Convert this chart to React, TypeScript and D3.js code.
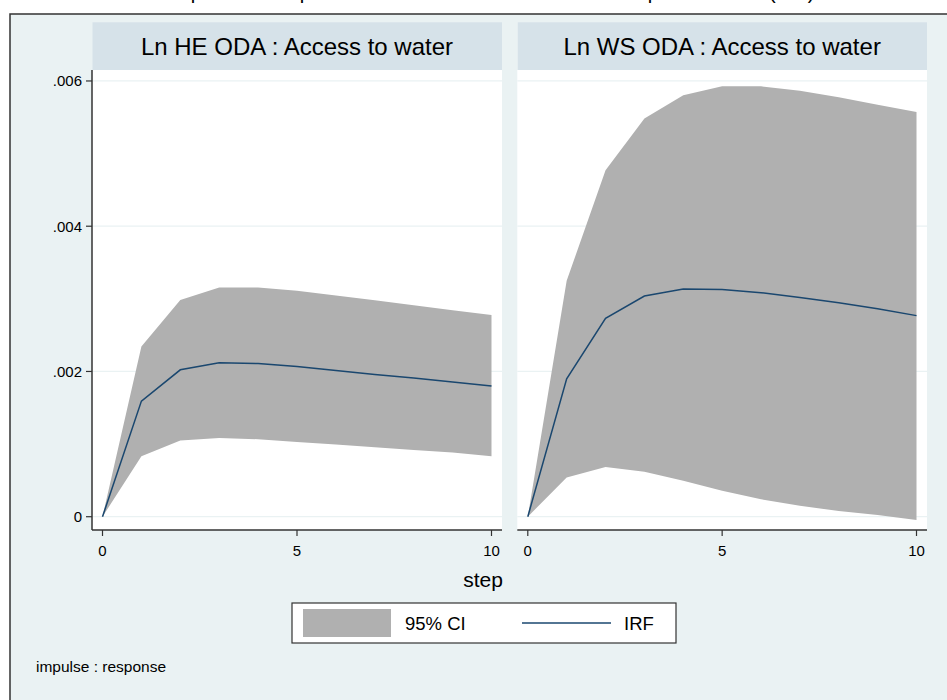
import React from "react";
import * as d3 from "d3";

const steps = [0, 1, 2, 3, 4, 5, 6, 7, 8, 9, 10];
const panelTitles = ["Ln HE ODA : Access to water", "Ln WS ODA : Access to water"];

// Panel 1: Ln HE ODA
const heIrf = [0, 0.001592, 0.002023, 0.002119, 0.00211, 0.002069, 0.002014, 0.001959, 0.001909, 0.001854, 0.001799];
const heUpper = [0, 0.002343, 0.002984, 0.003157, 0.003157, 0.003112, 0.003045, 0.002979, 0.00291, 0.002844, 0.002778];
const heLower = [0, 0.000833, 0.001049, 0.001085, 0.001067, 0.00103, 0.000993, 0.000957, 0.00092, 0.000884, 0.000833];

// Panel 2: Ln WS ODA
const wsIrf = [0, 0.0019, 0.002732, 0.003039, 0.003135, 0.00313, 0.003085, 0.00302, 0.002947, 0.002865, 0.002769];
const wsUpper = [0, 0.003249, 0.004769, 0.005482, 0.005802, 0.005926, 0.005926, 0.005867, 0.005775, 0.005674, 0.005573];
const wsLower = [0, 0.000541, 0.000686, 0.000618, 0.000494, 0.000357, 0.000239, 0.000151, 0.000078, 0.000023, -0.000045];

const yTicks = [0, 0.002, 0.004, 0.006];
const yTickLabels = ["0", ".002", ".004", ".006"];
const xTicks = [0, 5, 10];

const titleText = "Graph 2: IRF impact of ODA on the rate of access to improved water (IRF)";
const xTitle = "step";
const legendLabels = ["95% CI", "IRF"];
const noteText = "impulse : response";

const FONT = "'Liberation Sans', Arial, Helvetica, sans-serif";
const BG = "#eaf2f3";
const STRIP = "#d6e2e9";
const GRID = "#eaf2f3";
const CI = "#b0b0b0";
const NAVY = "#1a476f";
const AXIS = "#333333";

export default function App() {
  const W = 947;
  const H = 700;
  const plotTop = 70;
  const plotBottom = 530;
  const y = d3.scaleLinear().domain([-0.000183, 0.006151]).range([plotBottom, plotTop]);

  const panels = [
    { left: 92, right: 502, irf: heIrf, up: heUpper, lo: heLower, title: panelTitles[0], yAxis: true },
    { left: 517.3, right: 927, irf: wsIrf, up: wsUpper, lo: wsLower, title: panelTitles[1], yAxis: false },
  ];

  return (
    <svg width={W} height={H} style={{ position: "absolute", left: 0, top: 0 }} fontFamily={FONT}>
      <rect x={0} y={0} width={W} height={H} fill="#ffffff" />
      <text x={486} y={-1} textAnchor="middle" fontSize={20} fill="#000">{titleText}</text>
      <rect x={10} y={14} width={960} height={720} fill={BG} stroke={AXIS} strokeWidth={1.5} />
      {panels.map((p, i) => {
        const x = d3.scaleLinear().domain([-0.27, 10.27]).range([p.left, p.right]);
        const area = d3
          .area<number>()
          .x((_, k) => x(steps[k]))
          .y0((_, k) => y(p.lo[k]))
          .y1((_, k) => y(p.up[k]));
        const line = d3
          .line<number>()
          .x((_, k) => x(steps[k]))
          .y((v) => y(v));
        return (
          <g key={i}>
            <rect x={p.left + 0.5} y={22.3} width={p.right - p.left - 0.5} height={47.7} fill={STRIP} />
            <text
              x={(p.left + p.right) / 2}
              y={46}
              textAnchor="middle"
              dominantBaseline="central"
              fontSize={24}
              fill="#000"
            >
              {p.title}
            </text>
            <rect x={p.left} y={plotTop} width={p.right - p.left} height={plotBottom - plotTop} fill="#fff" />
            {yTicks.map((t) => (
              <line key={t} x1={p.left} x2={p.right} y1={y(t)} y2={y(t)} stroke={GRID} strokeWidth={1.2} />
            ))}
            <path d={area(p.up) || ""} fill={CI} stroke="none" />
            <path d={line(p.irf) || ""} fill="none" stroke={NAVY} strokeWidth={1.5} />
            <line x1={p.left} x2={p.right} y1={plotBottom} y2={plotBottom} stroke={AXIS} strokeWidth={1.5} />
            {xTicks.map((t) => (
              <g key={t}>
                <line x1={x(t)} x2={x(t)} y1={plotBottom} y2={plotBottom + 6} stroke={AXIS} strokeWidth={1.2} />
                <text x={x(t)} y={550} textAnchor="middle" dominantBaseline="central" fontSize={15} fill="#000">
                  {t}
                </text>
              </g>
            ))}
            {p.yAxis && (
              <g>
                <line x1={p.left} x2={p.left} y1={plotTop} y2={plotBottom} stroke={AXIS} strokeWidth={1.5} />
                {yTicks.map((t, k) => (
                  <g key={t}>
                    <line x1={p.left - 6} x2={p.left} y1={y(t)} y2={y(t)} stroke={AXIS} strokeWidth={1.2} />
                    <text x={82} y={y(t)} textAnchor="end" dominantBaseline="central" fontSize={15} fill="#000">
                      {yTickLabels[k]}
                    </text>
                  </g>
                ))}
              </g>
            )}
          </g>
        );
      })}
      <text x={483} y={579} textAnchor="middle" dominantBaseline="central" fontSize={21} fill="#000">
        {xTitle}
      </text>
      <rect x={292} y={603} width={384} height={40} fill="#fff" stroke={AXIS} strokeWidth={1.2} />
      <rect x={303} y={609} width={88} height={28} fill={CI} />
      <text x={405} y={623} dominantBaseline="central" fontSize={18.5} fill="#000">{legendLabels[0]}</text>
      <line x1={522} x2={611} y1={623} y2={623} stroke={NAVY} strokeWidth={1.5} />
      <text x={624} y={623} dominantBaseline="central" fontSize={18.5} fill="#000">{legendLabels[1]}</text>
      <text x={36} y={666} dominantBaseline="central" fontSize={15.5} fill="#000">{noteText}</text>
    </svg>
  );
}
